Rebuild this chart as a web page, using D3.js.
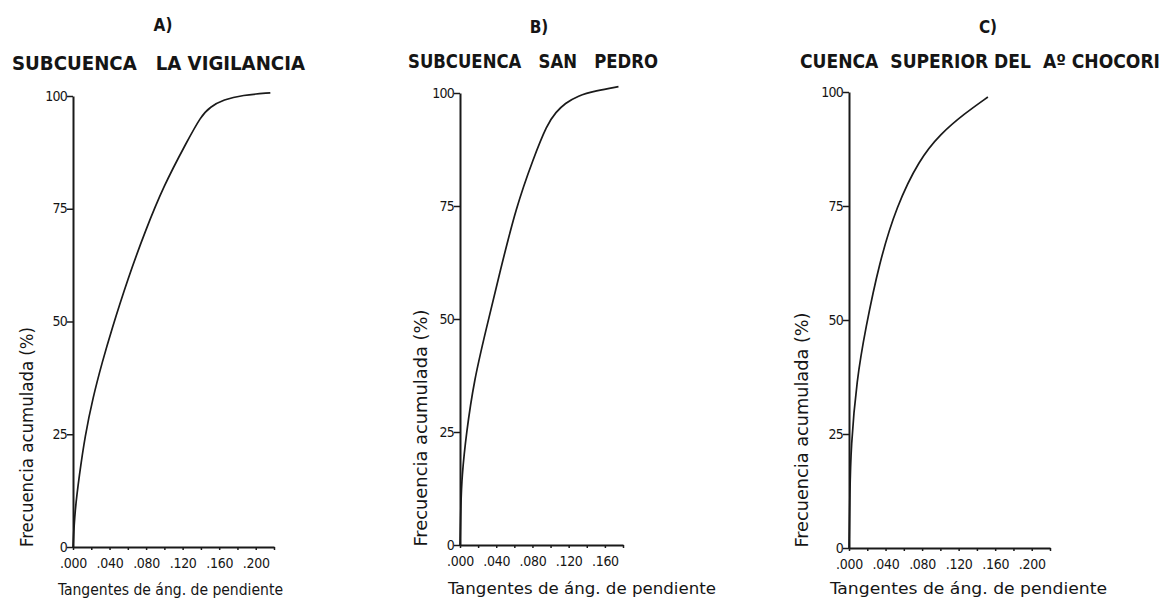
<!DOCTYPE html>
<html>
<head>
<meta charset="utf-8">
<script src="https://cdn.jsdelivr.net/npm/d3@7"></script>
<style>
  body { margin: 0; background: #fff; }
  text { fill: #151515; font-family: "Liberation Sans Narrow", "DejaVu Sans Condensed", "DejaVu Sans", sans-serif; }
</style>
</head>
<body>
<svg id="chart" width="1167" height="601"></svg>
<script>
// panel letters and titles
var letters = ["A)", "B)", "C)"];
var titles = ["SUBCUENCA   LA VIGILANCIA", "SUBCUENCA   SAN   PEDRO", "CUENCA  SUPERIOR DEL  A\u00BA CHOCORI"];
var yTitle = "Frecuencia acumulada (%)";
var xTitle = "Tangentes de \u00E1ng. de pendiente";

// y ticks (percent)
var yTicks = [0, 25, 50, 75, 100];

// x tick labels per panel
var xLabelsA = [".000", ".040", ".080", ".120", ".160", ".200"];
var xLabelsB = [".000", ".040", ".080", ".120", ".160"];
var xLabelsC = [".000", ".040", ".080", ".120", ".160", ".200"];

// curves: slope tangent vs cumulative frequency
var slopeA = [0, 0.002, 0.007, 0.013, 0.022, 0.032, 0.042, 0.060, 0.079, 0.099, 0.125, 0.140, 0.150, 0.165, 0.185, 0.216];
var freqA  = [0, 8, 16, 24.5, 33.3, 41, 48, 59.5, 70, 80, 90, 95.5, 97.6, 99.2, 100.2, 100.7];

var slopeB = [0, 0.001, 0.002, 0.007, 0.0156, 0.0287, 0.0436, 0.062, 0.081, 0.096, 0.106, 0.116, 0.130, 0.150, 0.175];
var freqB  = [0, 9, 15, 24.8, 36.5, 47.6, 60, 74.8, 85.5, 93, 95.8, 97.7, 99.4, 100.5, 101.4];

var slopeC = [0, 0.001, 0.002, 0.0085, 0.018, 0.033, 0.052, 0.077, 0.100, 0.126, 0.152];
var freqC  = [0, 12, 22, 37, 48, 62.5, 75, 85.2, 90.8, 95.2, 98.9];

var panels = [
  { letter: letters[0], title: titles[0], xs: slopeA, ys: freqA, labels: xLabelsA, xMax: 0.22,
    x0: 73, x1: 274, yTop: 96, yBot: 547,
    letterX: 163, letterY: 31, titleX: 12, titleW: 293, titleY: 70,
    yTitleX: 33, yTitleY: 437, yTitleW: 220, xTitleX: 58, xTitleW: 225, xTitleY: 595 },
  { letter: letters[1], title: titles[1], xs: slopeB, ys: freqB, labels: xLabelsB, xMax: 0.18,
    x0: 460, x1: 623, yTop: 93, yBot: 545,
    letterX: 539, letterY: 33, titleX: 408, titleW: 250, titleY: 68,
    yTitleX: 427, yTitleY: 428, yTitleW: 237, xTitleX: 448, xTitleW: 268, xTitleY: 594 },
  { letter: letters[2], title: titles[2], xs: slopeC, ys: freqC, labels: xLabelsC, xMax: 0.22,
    x0: 849, x1: 1050, yTop: 92, yBot: 548,
    letterX: 988, letterY: 33, titleX: 800, titleW: 360, titleY: 68,
    yTitleX: 808, yTitleY: 430, yTitleW: 235, xTitleX: 830, xTitleW: 277, xTitleY: 594 }
];

var svg = d3.select('#chart');

panels.forEach(function(p) {
  var x = d3.scaleLinear().domain([0, p.xMax]).range([p.x0, p.x1]);
  var y = d3.scaleLinear().domain([0, 100]).range([p.yBot, p.yTop]);

  // header
  svg.append('text')
     .attr('x', p.letterX).attr('y', p.letterY)
     .attr('text-anchor', 'middle')
     .attr('font-size', 17).attr('font-weight', 'bold')
     .text(p.letter);

  svg.append('text')
     .attr('x', p.titleX).attr('y', p.titleY)
     .attr('font-size', 19).attr('font-weight', 'bold')
     .attr('textLength', p.titleW).attr('lengthAdjust', 'spacingAndGlyphs')
     .style('white-space', 'pre')
     .text(p.title);

  // x axis: minor tick every .02, label every .04
  var xVals = d3.range(0, p.xMax + 0.0001, 0.02);
  var labelled = {};
  p.labels.forEach(function(l, i) { labelled[(i * 0.04).toFixed(2)] = l; });

  var xAxis = svg.append('g')
     .attr('transform', 'translate(0,' + p.yBot + ')')
     .call(d3.axisBottom(x)
        .tickValues(xVals)
        .tickSize(3)
        .tickSizeOuter(0)
        .tickFormat(function(d) { return labelled[d.toFixed(2)] || ''; }));
  xAxis.selectAll('text')
     .attr('font-size', 14)
     .attr('y', 7)
     .attr('dy', '1em')
     .attr('letter-spacing', '-0.3px');

  // y axis
  var yAxis = svg.append('g')
     .attr('transform', 'translate(' + p.x0 + ',0)')
     .call(d3.axisLeft(y).tickValues(yTicks).tickSize(6).tickSizeOuter(0).tickFormat(d3.format('d')));
  yAxis.selectAll('text')
     .attr('font-size', 14)
     .attr('x', -6)
     .attr('dy', '0.3em')
     .attr('letter-spacing', '-0.8px');

  svg.selectAll('.domain').attr('stroke', '#1a1a1a').attr('stroke-width', 2);
  svg.selectAll('.tick line').attr('stroke', '#1a1a1a').attr('stroke-width', 1.5);

  // axis titles
  svg.append('text')
     .attr('transform', 'translate(' + p.yTitleX + ',' + p.yTitleY + ') rotate(-90)')
     .attr('text-anchor', 'middle')
     .attr('font-size', 17)
     .attr('textLength', p.yTitleW).attr('lengthAdjust', 'spacingAndGlyphs')
     .text(yTitle);

  svg.append('text')
     .attr('x', p.xTitleX).attr('y', p.xTitleY)
     .attr('font-size', 16)
     .attr('textLength', p.xTitleW).attr('lengthAdjust', 'spacingAndGlyphs')
     .text(xTitle);

  // cumulative curve
  var pts = p.xs.map(function(v, i) { return [v, p.ys[i]]; });
  svg.append('path')
     .datum(pts)
     .attr('fill', 'none')
     .attr('stroke', '#1a1a1a')
     .attr('stroke-width', 1.7)
     .attr('d', d3.line()
        .x(function(d) { return x(d[0]); })
        .y(function(d) { return y(d[1]); })
        .curve(d3.curveBasis));
});
</script>
</body>
</html>
